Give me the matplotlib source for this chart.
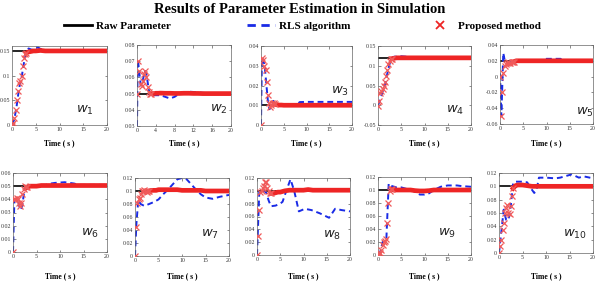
"""Parameter estimation results: raw parameter vs RLS vs proposed method."""

import matplotlib
matplotlib.use("Agg")
import matplotlib.pyplot as plt
from matplotlib.lines import Line2D
from matplotlib.ticker import FuncFormatter

plt.rcParams["font.family"] = ["Liberation Serif", "DejaVu Serif"]
plt.rcParams["mathtext.fontset"] = "dejavusans"

# ---- data ------------------------------------------------------------------
PANELS = ["w_1", "w_2", "w_3", "w_4", "w_5", "w_6", "w_7", "w_8", "w_9", "w_{10}"]
RAW = [0.15, 0.05, 0.01, 0.12, 0.02, 0.05, 0.1, 0.1, 0.1, 0.1]

# time grid of the proposed-method estimates
T_EST = [0, 0.25, 0.5, 0.75, 1, 1.25, 1.5, 1.75, 2, 2.25, 2.5, 2.75, 3, 3.5, 4, 4.5,
         5, 6, 7, 8, 9, 10, 11, 12, 13, 14, 15, 16, 17, 18, 19, 20]
SETTLED = 12  # index in T_EST from which estimates sit on the true value (t = 3 s)

est_w1 = [0, 0.005, 0.015, 0.03, 0.05, 0.068, 0.085, 0.09, 0.1, 0.12, 0.135, 0.143, 0.146, 0.148, 0.149, 0.15,
          0.15, 0.151, 0.15, 0.15, 0.15, 0.15, 0.15, 0.15, 0.15, 0.15, 0.15, 0.15, 0.15, 0.15, 0.15, 0.15]
est_w2 = [0.05, 0.07, 0.064, 0.056, 0.055, 0.058, 0.062, 0.064, 0.06, 0.054, 0.051, 0.05, 0.05, 0.05, 0.0502, 0.0502,
          0.0503, 0.0502, 0.0502, 0.0501, 0.0501, 0.0502, 0.0502, 0.0501, 0.0501, 0.05, 0.05, 0.05, 0.05, 0.05, 0.05, 0.05]
est_w3 = [0, 0.034, 0.033, 0.03, 0.028, 0.022, 0.015, 0.011, 0.009, 0.01, 0.011, 0.0112, 0.0105, 0.0102, 0.0101, 0.0101,
          0.01, 0.01, 0.01, 0.01, 0.01, 0.01, 0.01, 0.01, 0.01, 0.01, 0.01, 0.01, 0.01, 0.01, 0.01, 0.01]
est_w4 = [-0.003, 0.01, 0.03, 0.035, 0.04, 0.05, 0.06, 0.075, 0.09, 0.105, 0.112, 0.116, 0.118, 0.119, 0.12, 0.12,
          0.12, 0.12, 0.12, 0.12, 0.12, 0.12, 0.12, 0.12, 0.12, 0.12, 0.12, 0.12, 0.12, 0.12, 0.12, 0.12]
est_w5 = [0, -0.05, -0.02, 0.005, 0.014, 0.016, 0.017, 0.018, 0.017, 0.017, 0.018, 0.019, 0.019, 0.02, 0.02, 0.02,
          0.02, 0.02, 0.02, 0.02, 0.02, 0.02, 0.02, 0.02, 0.02, 0.02, 0.02, 0.02, 0.02, 0.02, 0.02, 0.02]
est_w6 = [0, 0.04, 0.04, 0.041, 0.04, 0.037, 0.035, 0.037, 0.044, 0.048, 0.05, 0.049, 0.049, 0.05, 0.05, 0.05,
          0.05, 0.0505, 0.0505, 0.0505, 0.0505, 0.0505, 0.0505, 0.0505, 0.0505, 0.0505, 0.0505, 0.0505, 0.0505, 0.0505, 0.0505, 0.0505]
est_w7 = [0, 0.045, 0.082, 0.088, 0.09, 0.095, 0.1, 0.1, 0.102, 0.1, 0.098, 0.1, 0.1, 0.101, 0.101, 0.101,
          0.102, 0.102, 0.102, 0.102, 0.102, 0.101, 0.101, 0.101, 0.101, 0.101, 0.1, 0.1, 0.1, 0.1, 0.1, 0.1]
est_w8 = [0, 0.03, 0.07, 0.098, 0.1, 0.104, 0.108, 0.113, 0.114, 0.105, 0.1, 0.097, 0.096, 0.096, 0.097, 0.098,
          0.098, 0.1, 0.101, 0.101, 0.101, 0.101, 0.102, 0.101, 0.101, 0.101, 0.101, 0.101, 0.101, 0.101, 0.101, 0.101]
est_w9 = [0, 0.001, 0.003, 0.008, 0.015, 0.02, 0.022, 0.025, 0.05, 0.08, 0.098, 0.102, 0.101, 0.1, 0.1, 0.1,
          0.1, 0.1, 0.1, 0.099, 0.0985, 0.0985, 0.099, 0.1, 0.1, 0.1, 0.1, 0.1, 0.1, 0.1, 0.1, 0.1]
est_w10 = [0, 0.01, 0.02, 0.035, 0.045, 0.06, 0.068, 0.072, 0.06, 0.058, 0.07, 0.085, 0.097, 0.101, 0.102, 0.102,
           0.102, 0.101, 0.1, 0.1, 0.1, 0.1, 0.1, 0.1, 0.1, 0.1, 0.1, 0.1, 0.1, 0.1, 0.1, 0.1]
EST = [est_w1, est_w2, est_w3, est_w4, est_w5, est_w6, est_w7, est_w8, est_w9, est_w10]

# RLS algorithm traces (time, value)
rls_t1 = [0, 0.5, 1, 1.5, 2, 2.5, 3, 3.5, 4, 4.5, 5, 5.5, 6, 7, 8, 10, 12, 15, 20]
rls_w1 = [0, 0.012, 0.04, 0.075, 0.095, 0.125, 0.148, 0.155, 0.153, 0.152, 0.156, 0.157, 0.154, 0.152, 0.15, 0.15, 0.15, 0.15, 0.15]
rls_t2 = [0, 0.15, 0.3, 0.8, 1.2, 1.7, 2.0, 2.7, 3.5, 5, 6, 7, 8, 9, 10, 11, 12, 14, 16, 20]
rls_w2 = [0.03, 0.071, 0.068, 0.055, 0.058, 0.064, 0.062, 0.049, 0.049, 0.049, 0.048, 0.047, 0.048, 0.05, 0.0508, 0.0512, 0.051, 0.0505, 0.05, 0.05]
rls_t3 = [0, 0.2, 0.5, 0.8, 1.2, 1.6, 1.9, 2.3, 2.7, 3.2, 4, 6, 8, 8.5, 10, 15, 20]
rls_w3 = [0, 0.034, 0.033, 0.03, 0.02, 0.01, 0.008, 0.011, 0.0122, 0.011, 0.0105, 0.0104, 0.0105, 0.0116, 0.0117, 0.0117, 0.0117]
rls_t4 = [0, 0.5, 1, 1.5, 2, 2.5, 3, 3.5, 4, 5, 6, 7, 8, 10, 20]
rls_w4 = [0, 0.015, 0.035, 0.05, 0.08, 0.105, 0.12, 0.123, 0.123, 0.124, 0.123, 0.121, 0.12, 0.12, 0.12]
rls_t5 = [0, 0.3, 0.7, 1.0, 1.5, 2, 2.5, 3, 5, 8, 9, 10, 13, 14, 20]
rls_w5 = [0.004, -0.05, 0.03, 0.021, 0.019, 0.018, 0.019, 0.02, 0.02, 0.02, 0.021, 0.0225, 0.0225, 0.021, 0.021]
rls_t6 = [0, 0.3, 0.6, 1, 1.4, 1.7, 2, 2.5, 3, 5, 6, 7, 8, 9, 11, 13, 14, 16, 20]
rls_w6 = [0, 0.04, 0.04, 0.04, 0.034, 0.032, 0.036, 0.049, 0.05, 0.05, 0.051, 0.051, 0.052, 0.0525, 0.053, 0.052, 0.051, 0.051, 0.051]
rls_t7 = [0, 0.3, 0.7, 1.2, 2, 3, 4, 5, 6, 7, 8, 9, 10, 11, 12, 13, 14, 15, 16.5, 18, 20]
rls_w7 = [0, 0.05, 0.086, 0.08, 0.077, 0.08, 0.083, 0.087, 0.095, 0.102, 0.11, 0.118, 0.12, 0.118, 0.11, 0.102, 0.095, 0.09, 0.088, 0.091, 0.094]
rls_t8 = [0, 0.5, 1, 1.5, 2, 2.5, 3, 4, 5, 5.5, 6.3, 7.2, 8, 9, 10.3, 11.7, 13.5, 15.5, 16.8, 18.2, 20]
rls_w8 = [0, 0.1, 0.102, 0.1, 0.097, 0.085, 0.076, 0.077, 0.08, 0.083, 0.1, 0.118, 0.1, 0.068, 0.072, 0.07, 0.065, 0.058, 0.072, 0.07, 0.068]
rls_t9 = [0, 0.5, 1, 1.5, 1.8, 2.3, 3, 4, 5, 6, 7, 8, 9, 10, 11, 12, 13.5, 15, 17, 18, 20]
rls_w9 = [0, 0.005, 0.02, 0.022, 0.025, 0.11, 0.106, 0.104, 0.104, 0.102, 0.1, 0.097, 0.093, 0.093, 0.095, 0.1, 0.105, 0.107, 0.107, 0.106, 0.105]
rls_t10 = [0, 0.7, 1, 1.5, 2, 2.5, 3, 3.5, 5, 6, 6.5, 7.5, 8, 8.5, 10, 12, 13, 14, 15.5, 17, 18, 20]
rls_w10 = [0, 0.045, 0.065, 0.05, 0.049, 0.07, 0.105, 0.107, 0.107, 0.106, 0.1, 0.09, 0.095, 0.113, 0.113, 0.112, 0.113, 0.115, 0.118, 0.113, 0.115, 0.112]
RLS_T = [rls_t1, rls_t2, rls_t3, rls_t4, rls_t5, rls_t6, rls_t7, rls_t8, rls_t9, rls_t10]
RLS = [rls_w1, rls_w2, rls_w3, rls_w4, rls_w5, rls_w6, rls_w7, rls_w8, rls_w9, rls_w10]

Y_TICKS = [
    [0, 0.05, 0.1, 0.15],
    [0.03, 0.04, 0.05, 0.06, 0.07, 0.08],
    [0, 0.01, 0.02, 0.03, 0.04],
    [-0.05, 0, 0.05, 0.1, 0.15],
    [-0.06, -0.04, -0.02, 0, 0.02, 0.04],
    [0, 0.01, 0.02, 0.03, 0.04, 0.05, 0.06],
    [0, 0.02, 0.04, 0.06, 0.08, 0.1, 0.12],
    [0, 0.02, 0.04, 0.06, 0.08, 0.1, 0.12],
    [0, 0.02, 0.04, 0.06, 0.08, 0.1, 0.12],
    [0, 0.02, 0.04, 0.06, 0.08, 0.1, 0.12],
]
Y_LIMS = [(0, 0.16), (0.03, 0.08), (0, 0.04), (-0.05, 0.15), (-0.06, 0.04),
          (0, 0.06), (0, 0.12), (0, 0.12), (0, 0.12), (0, 0.12)]
X_TICKS = [[0, 5, 10, 15, 20], [0, 4, 8, 12, 16, 20]] + [[0, 5, 10, 15, 20]] * 8

# ---- layout (pixel boxes: left, right, top, bottom) --------------------------
W, H = 599, 285
BOXES = [(12, 107, 46, 125), (137, 231, 45, 126), (261, 352, 46, 125), (378, 471, 46, 125), (500, 593, 45, 124),
         (13, 107, 173, 252), (135, 229, 178, 256), (257, 350, 178, 255), (378, 471, 177, 255), (499, 593, 173, 253)]
LABEL_POS = [(0.77, 0.19), (0.87, 0.2), (0.87, 0.43), (0.83, 0.19), (0.91, 0.14),
             (0.82, 0.23), (0.8, 0.27), (0.81, 0.25), (0.74, 0.27), (0.81, 0.23)]

BLUE = "#1a2be6"
RED = "#ee2525"

fig = plt.figure(figsize=(W / 100, H / 100), dpi=100)

for i in range(10):
    l, r, t, b = BOXES[i]
    ax = fig.add_axes([l / W, (H - b) / H, (r - l) / W, (b - t) / H])
    ax.axhline(RAW[i], color="black", lw=1.2, zorder=1)
    ax.plot(RLS_T[i], RLS[i], "--", color=BLUE, lw=1.4, dashes=(3, 2), zorder=2)
    # settled estimates overlap into a thick band, transient ones stay as crosses
    ax.plot(T_EST[SETTLED:], EST[i][SETTLED:], "-", color=RED, lw=3.4, zorder=3)
    ax.plot(T_EST[:SETTLED + 1], EST[i][:SETTLED + 1], "x", color="#f05a5a",
            ms=4, mew=0.9, zorder=4)

    ax.set_xlim(0, 20)
    ax.set_ylim(*Y_LIMS[i])
    ax.set_xticks(X_TICKS[i])
    ax.set_yticks(Y_TICKS[i])
    ax.yaxis.set_major_formatter(FuncFormatter(lambda v, p: f"{v:g}"))
    ax.tick_params(direction="in", length=1.8, width=0.4, labelsize=4.2, pad=1.5,
                   top=True, right=True, colors="#333333")
    for s in ax.spines.values():
        s.set_linewidth(0.5)
        s.set_color("#666666")
    ax.text(*LABEL_POS[i], f"${PANELS[i]}$", transform=ax.transAxes,
            fontsize=9.5, ha="center", va="center", color="#222222")

    time_y = 0.498 if i < 5 else 0.032
    fig.text((l + r) / 2 / W, time_y, "Time ( s )", ha="center", va="center",
             fontsize=5.5, fontweight="bold")

fig.text(0.5, 0.968, "Results of Parameter Estimation in Simulation", ha="center", va="center",
         fontsize=10.5, fontweight="bold")

handles = [
    Line2D([], [], color="black", lw=2),
    Line2D([], [], color=BLUE, lw=2, ls="--", dashes=(3, 2)),
    Line2D([], [], color=RED, ls="none", marker="x", ms=6, mew=1.3),
]
fig.legend(handles, ["Raw Parameter", "RLS algorithm", "Proposed method"],
           loc="center", bbox_to_anchor=(0.505, 0.908), ncol=3, frameon=False,
           prop={"weight": "bold", "size": 8}, columnspacing=6.85,
           handlelength=2.5, handletextpad=0.35)

fig.savefig("out.png", dpi=100)
